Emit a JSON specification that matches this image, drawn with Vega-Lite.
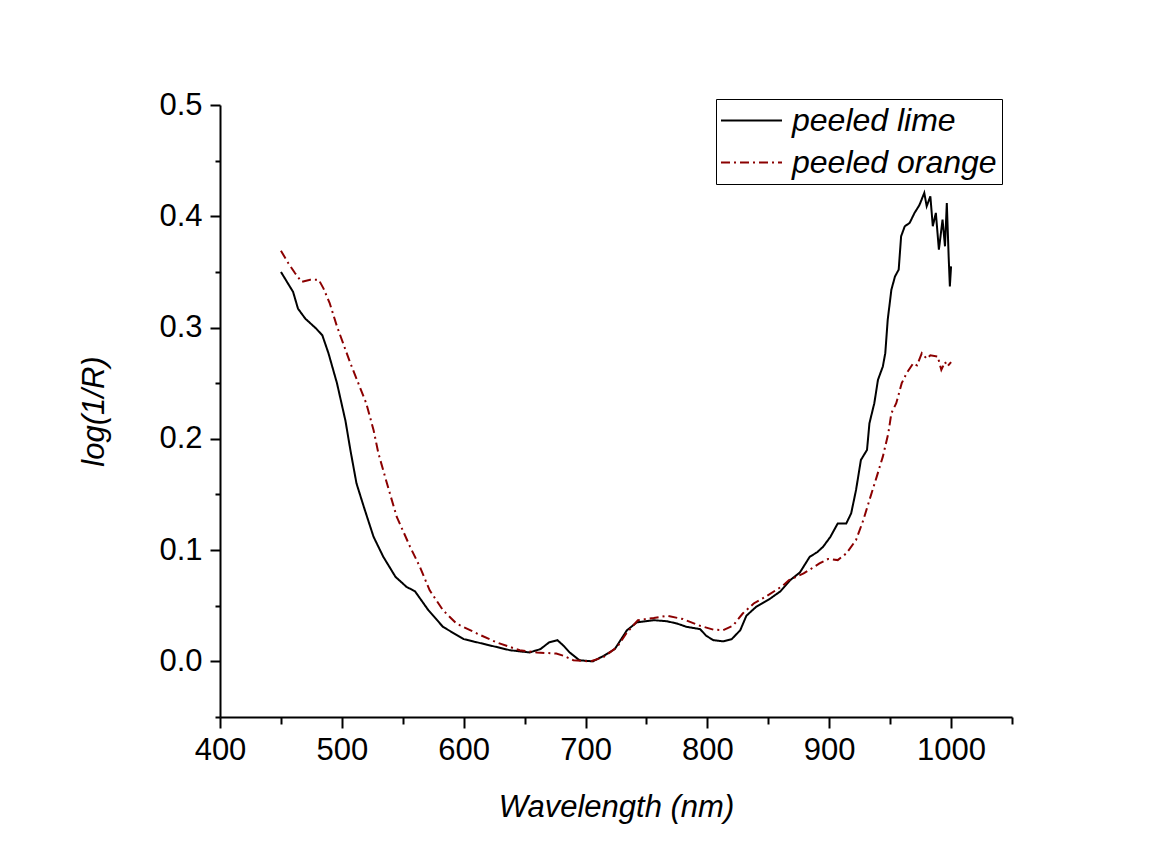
{
  "$schema": "https://vega.github.io/schema/vega-lite/v6.json",
  "width": 792,
  "height": 612,
  "autosize": {"type": "none"},
  "padding": {"left": 220, "top": 105, "right": 139, "bottom": 139},
  "background": "#ffffff",
  "config": {
    "view": {"stroke": null},
    "font": "Liberation Sans",
    "axis": {
      "labelFont": "Liberation Sans",
      "titleFont": "Liberation Sans",
      "labelFontSize": 31,
      "titleFontSize": 31,
      "titleFontStyle": "italic",
      "titleFontWeight": "normal",
      "labelColor": "#000000",
      "titleColor": "#000000",
      "domainColor": "#000000",
      "tickColor": "#000000",
      "domainWidth": 2,
      "tickWidth": 2,
      "grid": false
    }
  },
  "data": {
    "values": [
      {"w": 450, "v": 0.350, "s": "peeled lime"},
      {"w": 455, "v": 0.341, "s": "peeled lime"},
      {"w": 460, "v": 0.332, "s": "peeled lime"},
      {"w": 464, "v": 0.317, "s": "peeled lime"},
      {"w": 470, "v": 0.308, "s": "peeled lime"},
      {"w": 479, "v": 0.299, "s": "peeled lime"},
      {"w": 484, "v": 0.293, "s": "peeled lime"},
      {"w": 489, "v": 0.277, "s": "peeled lime"},
      {"w": 496, "v": 0.250, "s": "peeled lime"},
      {"w": 503, "v": 0.216, "s": "peeled lime"},
      {"w": 507, "v": 0.190, "s": "peeled lime"},
      {"w": 512, "v": 0.160, "s": "peeled lime"},
      {"w": 518, "v": 0.139, "s": "peeled lime"},
      {"w": 526, "v": 0.112, "s": "peeled lime"},
      {"w": 534, "v": 0.094, "s": "peeled lime"},
      {"w": 544, "v": 0.076, "s": "peeled lime"},
      {"w": 553, "v": 0.067, "s": "peeled lime"},
      {"w": 560, "v": 0.063, "s": "peeled lime"},
      {"w": 571, "v": 0.046, "s": "peeled lime"},
      {"w": 583, "v": 0.031, "s": "peeled lime"},
      {"w": 600, "v": 0.020, "s": "peeled lime"},
      {"w": 619, "v": 0.015, "s": "peeled lime"},
      {"w": 638, "v": 0.010, "s": "peeled lime"},
      {"w": 654, "v": 0.008, "s": "peeled lime"},
      {"w": 663, "v": 0.011, "s": "peeled lime"},
      {"w": 670, "v": 0.017, "s": "peeled lime"},
      {"w": 677, "v": 0.019, "s": "peeled lime"},
      {"w": 682, "v": 0.014, "s": "peeled lime"},
      {"w": 687, "v": 0.008, "s": "peeled lime"},
      {"w": 695, "v": 0.001, "s": "peeled lime"},
      {"w": 706, "v": 0.000, "s": "peeled lime"},
      {"w": 715, "v": 0.005, "s": "peeled lime"},
      {"w": 724, "v": 0.011, "s": "peeled lime"},
      {"w": 734, "v": 0.028, "s": "peeled lime"},
      {"w": 742, "v": 0.035, "s": "peeled lime"},
      {"w": 756, "v": 0.037, "s": "peeled lime"},
      {"w": 767, "v": 0.036, "s": "peeled lime"},
      {"w": 775, "v": 0.034, "s": "peeled lime"},
      {"w": 783, "v": 0.031, "s": "peeled lime"},
      {"w": 794, "v": 0.029, "s": "peeled lime"},
      {"w": 799, "v": 0.023, "s": "peeled lime"},
      {"w": 805, "v": 0.019, "s": "peeled lime"},
      {"w": 813, "v": 0.018, "s": "peeled lime"},
      {"w": 820, "v": 0.020, "s": "peeled lime"},
      {"w": 827, "v": 0.028, "s": "peeled lime"},
      {"w": 832, "v": 0.041, "s": "peeled lime"},
      {"w": 840, "v": 0.049, "s": "peeled lime"},
      {"w": 851, "v": 0.056, "s": "peeled lime"},
      {"w": 860, "v": 0.063, "s": "peeled lime"},
      {"w": 868, "v": 0.073, "s": "peeled lime"},
      {"w": 876, "v": 0.080, "s": "peeled lime"},
      {"w": 884, "v": 0.094, "s": "peeled lime"},
      {"w": 890, "v": 0.098, "s": "peeled lime"},
      {"w": 895, "v": 0.103, "s": "peeled lime"},
      {"w": 901, "v": 0.112, "s": "peeled lime"},
      {"w": 907, "v": 0.124, "s": "peeled lime"},
      {"w": 914, "v": 0.124, "s": "peeled lime"},
      {"w": 918, "v": 0.133, "s": "peeled lime"},
      {"w": 922, "v": 0.154, "s": "peeled lime"},
      {"w": 926, "v": 0.181, "s": "peeled lime"},
      {"w": 931, "v": 0.190, "s": "peeled lime"},
      {"w": 933, "v": 0.214, "s": "peeled lime"},
      {"w": 937, "v": 0.232, "s": "peeled lime"},
      {"w": 940, "v": 0.253, "s": "peeled lime"},
      {"w": 944, "v": 0.265, "s": "peeled lime"},
      {"w": 946, "v": 0.277, "s": "peeled lime"},
      {"w": 948, "v": 0.307, "s": "peeled lime"},
      {"w": 951, "v": 0.334, "s": "peeled lime"},
      {"w": 954, "v": 0.346, "s": "peeled lime"},
      {"w": 957, "v": 0.352, "s": "peeled lime"},
      {"w": 959, "v": 0.382, "s": "peeled lime"},
      {"w": 962, "v": 0.391, "s": "peeled lime"},
      {"w": 966, "v": 0.394, "s": "peeled lime"},
      {"w": 970, "v": 0.403, "s": "peeled lime"},
      {"w": 974, "v": 0.410, "s": "peeled lime"},
      {"w": 978, "v": 0.421, "s": "peeled lime"},
      {"w": 980, "v": 0.409, "s": "peeled lime"},
      {"w": 983, "v": 0.418, "s": "peeled lime"},
      {"w": 985, "v": 0.391, "s": "peeled lime"},
      {"w": 987.5, "v": 0.403, "s": "peeled lime"},
      {"w": 990, "v": 0.370, "s": "peeled lime"},
      {"w": 993, "v": 0.397, "s": "peeled lime"},
      {"w": 995, "v": 0.373, "s": "peeled lime"},
      {"w": 996.5, "v": 0.412, "s": "peeled lime"},
      {"w": 998, "v": 0.364, "s": "peeled lime"},
      {"w": 999, "v": 0.337, "s": "peeled lime"},
      {"w": 1000, "v": 0.355, "s": "peeled lime"},
      {"w": 450, "v": 0.369, "s": "peeled orange"},
      {"w": 456, "v": 0.358, "s": "peeled orange"},
      {"w": 461.5, "v": 0.349, "s": "peeled orange"},
      {"w": 467, "v": 0.341, "s": "peeled orange"},
      {"w": 474, "v": 0.343, "s": "peeled orange"},
      {"w": 481, "v": 0.343, "s": "peeled orange"},
      {"w": 485, "v": 0.335, "s": "peeled orange"},
      {"w": 490, "v": 0.322, "s": "peeled orange"},
      {"w": 496, "v": 0.301, "s": "peeled orange"},
      {"w": 501, "v": 0.286, "s": "peeled orange"},
      {"w": 507, "v": 0.268, "s": "peeled orange"},
      {"w": 513.5, "v": 0.250, "s": "peeled orange"},
      {"w": 520, "v": 0.232, "s": "peeled orange"},
      {"w": 526, "v": 0.208, "s": "peeled orange"},
      {"w": 530, "v": 0.187, "s": "peeled orange"},
      {"w": 537, "v": 0.160, "s": "peeled orange"},
      {"w": 545, "v": 0.130, "s": "peeled orange"},
      {"w": 556, "v": 0.103, "s": "peeled orange"},
      {"w": 564, "v": 0.085, "s": "peeled orange"},
      {"w": 572, "v": 0.064, "s": "peeled orange"},
      {"w": 583, "v": 0.046, "s": "peeled orange"},
      {"w": 594, "v": 0.034, "s": "peeled orange"},
      {"w": 611, "v": 0.025, "s": "peeled orange"},
      {"w": 627, "v": 0.017, "s": "peeled orange"},
      {"w": 646, "v": 0.010, "s": "peeled orange"},
      {"w": 660, "v": 0.008, "s": "peeled orange"},
      {"w": 676, "v": 0.007, "s": "peeled orange"},
      {"w": 682, "v": 0.005, "s": "peeled orange"},
      {"w": 690, "v": 0.001, "s": "peeled orange"},
      {"w": 704, "v": 0.000, "s": "peeled orange"},
      {"w": 715, "v": 0.004, "s": "peeled orange"},
      {"w": 726, "v": 0.013, "s": "peeled orange"},
      {"w": 734, "v": 0.026, "s": "peeled orange"},
      {"w": 743, "v": 0.037, "s": "peeled orange"},
      {"w": 756, "v": 0.039, "s": "peeled orange"},
      {"w": 767, "v": 0.041, "s": "peeled orange"},
      {"w": 780, "v": 0.038, "s": "peeled orange"},
      {"w": 794, "v": 0.032, "s": "peeled orange"},
      {"w": 805, "v": 0.0285, "s": "peeled orange"},
      {"w": 813, "v": 0.028, "s": "peeled orange"},
      {"w": 821, "v": 0.032, "s": "peeled orange"},
      {"w": 829, "v": 0.043, "s": "peeled orange"},
      {"w": 838, "v": 0.052, "s": "peeled orange"},
      {"w": 849, "v": 0.059, "s": "peeled orange"},
      {"w": 862, "v": 0.068, "s": "peeled orange"},
      {"w": 867, "v": 0.073, "s": "peeled orange"},
      {"w": 879, "v": 0.079, "s": "peeled orange"},
      {"w": 892, "v": 0.088, "s": "peeled orange"},
      {"w": 899, "v": 0.092, "s": "peeled orange"},
      {"w": 907, "v": 0.091, "s": "peeled orange"},
      {"w": 914, "v": 0.097, "s": "peeled orange"},
      {"w": 922, "v": 0.109, "s": "peeled orange"},
      {"w": 928, "v": 0.127, "s": "peeled orange"},
      {"w": 933, "v": 0.145, "s": "peeled orange"},
      {"w": 939, "v": 0.166, "s": "peeled orange"},
      {"w": 944, "v": 0.184, "s": "peeled orange"},
      {"w": 948.5, "v": 0.205, "s": "peeled orange"},
      {"w": 951, "v": 0.223, "s": "peeled orange"},
      {"w": 955, "v": 0.232, "s": "peeled orange"},
      {"w": 959.5, "v": 0.250, "s": "peeled orange"},
      {"w": 963.5, "v": 0.259, "s": "peeled orange"},
      {"w": 969, "v": 0.268, "s": "peeled orange"},
      {"w": 972, "v": 0.266, "s": "peeled orange"},
      {"w": 976, "v": 0.277, "s": "peeled orange"},
      {"w": 980, "v": 0.272, "s": "peeled orange"},
      {"w": 983, "v": 0.275, "s": "peeled orange"},
      {"w": 989, "v": 0.274, "s": "peeled orange"},
      {"w": 992, "v": 0.262, "s": "peeled orange"},
      {"w": 995, "v": 0.269, "s": "peeled orange"},
      {"w": 997, "v": 0.265, "s": "peeled orange"},
      {"w": 1000, "v": 0.269, "s": "peeled orange"}
    ]
  },
  "mark": {"type": "line", "strokeWidth": 2, "interpolate": "linear"},
  "encoding": {
    "x": {
      "field": "w",
      "type": "quantitative",
      "title": "Wavelength (nm)",
      "scale": {"domain": [400, 1050], "nice": false, "zero": false},
      "axis": {
        "values": [400, 450, 500, 550, 600, 650, 700, 750, 800, 850, 900, 950, 1000, 1050],
        "labelExpr": "datum.value % 100 === 0 ? format(datum.value, 'd') : ''",
        "tickSize": {"condition": {"test": "datum.value % 100 === 0", "value": 11}, "value": 7},
        "labelPadding": 7,
        "titlePadding": 27,
        "labelFlush": false,
        "labelOverlap": false
      }
    },
    "y": {
      "field": "v",
      "type": "quantitative",
      "title": "log(1/R)",
      "scale": {"domain": [-0.05, 0.5], "nice": false, "zero": false},
      "axis": {
        "values": [-0.05, 0, 0.05, 0.1, 0.15, 0.2, 0.25, 0.3, 0.35, 0.4, 0.45, 0.5],
        "labelExpr": "abs(round(datum.value * 100)) % 10 === 0 ? format(datum.value, '.1f') : ''",
        "tickSize": {"condition": {"test": "abs(round(datum.value * 100)) % 10 === 0", "value": 10}, "value": 5},
        "labelPadding": 8,
        "titlePadding": 48,
        "labelFlush": false,
        "labelOverlap": false
      }
    },
    "color": {
      "field": "s",
      "type": "nominal",
      "scale": {"domain": ["peeled lime", "peeled orange"], "range": ["#000000", "#8b0000"]},
      "legend": {
        "title": null,
        "orient": "none",
        "legendX": 496,
        "legendY": -6,
        "symbolType": "M-2,0L2,0",
        "symbolSize": 930,
        "symbolStrokeWidth": 2,
        "symbolOffset": 14,
        "labelFont": "Liberation Sans",
        "labelFontSize": 32,
        "labelFontStyle": "italic",
        "labelColor": "#000000",
        "labelOffset": 24,
        "labelLimit": 0,
        "strokeColor": "#000000",
        "fillColor": "#ffffff",
        "padding": 5,
        "rowPadding": 9
      }
    },
    "strokeDash": {
      "field": "s",
      "type": "nominal",
      "scale": {"domain": ["peeled lime", "peeled orange"], "range": [[1, 0], [9, 4, 2, 4]]},
      "legend": null
    }
  }
}
